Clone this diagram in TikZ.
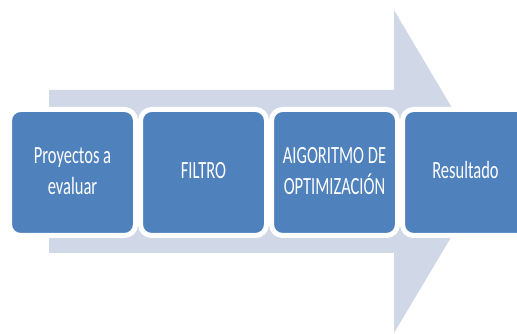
\documentclass[tikz,border=0pt]{standalone}
\usepackage{fontspec}
\setmainfont{Carlito}
\usepackage{xcolor}
\usepackage{graphicx}
\usepackage{tikz}
\usetikzlibrary{positioning}
\definecolor{stageblue}{RGB}{79,129,189}
\definecolor{arrowgray}{RGB}{208,216,232}
% stretched two-line label
\newcommand{\tall}[1]{\scalebox{1}[1.5]{\begin{tabular}{@{}c@{}}#1\end{tabular}}}

\begin{document}
\begin{tikzpicture}[x=1pt,y=1pt,
    stage/.style={draw=white, line width=5pt, fill=stageblue, rounded corners=11pt,
        minimum width=126pt, minimum height=126pt, inner sep=0pt, outer sep=0pt,
        text=white, font=\fontsize{16.5}{20.5}\selectfont}]
    \useasboundingbox (0,0) rectangle (517,334);

    % Big arrow behind the stages
    \fill[arrowgray] (49,81) -- (49,244) -- (394,244) -- (394,324) -- (490,162)
        -- (394,1) -- (394,81) -- cycle;

    % Stages
    \node[stage] (proyectos) at (72.5,161.5) {\tall{Proyectos a\\evaluar}};
    \node[stage, right=5pt of proyectos] (filtro) {\tall{FILTRO}};
    \node[stage, right=5pt of filtro] (algoritmo) {\tall{AIGORITMO DE\\OPTIMIZACIÓN}};
    \node[stage, right=5pt of algoritmo] (resultado) {\tall{Resultado}};
\end{tikzpicture}
\end{document}
